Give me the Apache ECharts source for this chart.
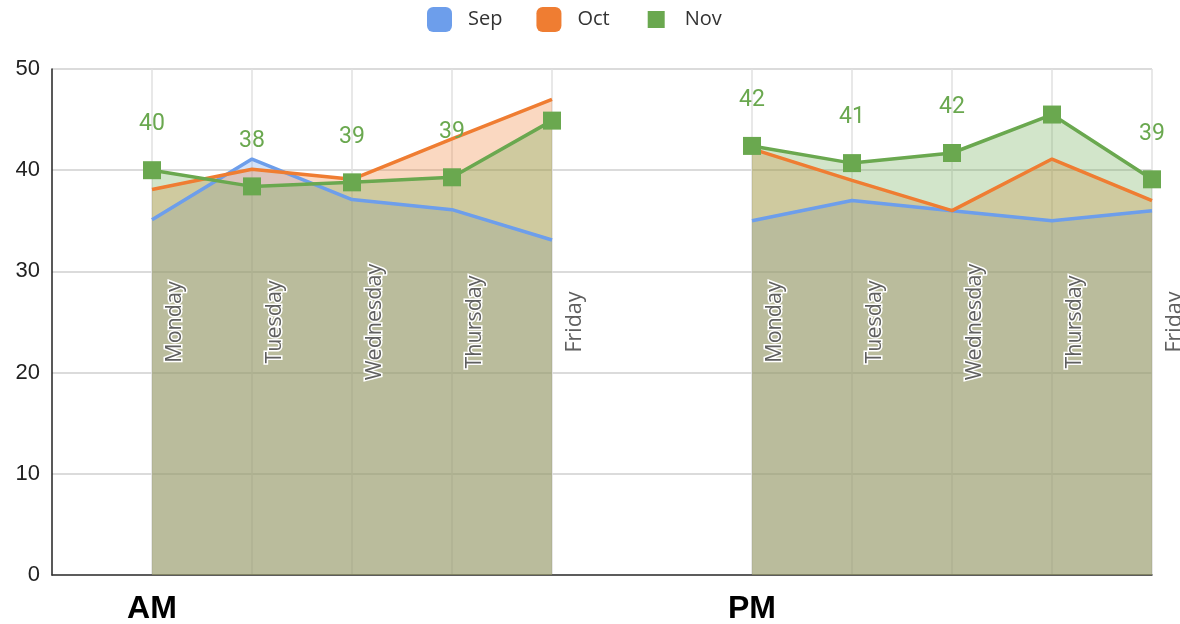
<!DOCTYPE html>
<html>
<head>
<meta charset="utf-8">
<script src="https://cdn.jsdelivr.net/npm/echarts@6/dist/echarts.min.js"></script>
<style>
  html, body { margin: 0; padding: 0; background: #fff; }
  #chart { width: 1180px; height: 624px; }
</style>
</head>
<body>
<div id="chart"></div>
<script>
// tick labels
const dayLabels = ['', 'Monday', 'Tuesday', 'Wednesday', 'Thursday', 'Friday',
  '', 'Monday', 'Tuesday', 'Wednesday', 'Thursday', 'Friday']
const periodLabels = ['', 'AM', '', '', '', '', '', 'PM', '', '', '', '']
const yTicks = [0, 10, 20, 30, 40, 50]

// values
const sepAM = [35.1, 41.1, 37.1, 36.1, 33.1]
const sepPM = [35.0, 37.0, 36.0, 35.0, 36.0]
const octAM = [38.1, 40.1, 39.1, 43.1, 47.0]
const octPM = [42.1, 39.0, 36.0, 41.1, 37.0]
const novAM = [40.0, 38.4, 38.8, 39.3, 44.9]
const novPM = [42.4, 40.7, 41.7, 45.5, 39.1]
// which nov points carry a value label
const novLabelAM = [true, true, true, true, false]
const novLabelPM = [true, true, true, false, true]

const colors = { sep: '#6d9eeb', oct: '#ef7d32', nov: '#6aa84f' }

const joinHalves = (am, pm) => [null, ...am, null, ...pm]

const novShown = joinHalves(novLabelAM, novLabelPM)
const novData = joinHalves(novAM, novPM).map((v, i) =>
  v === null ? null : { value: v, label: { show: novShown[i] } }
)

const chart = echarts.init(document.getElementById('chart'))

const option = {
  animation: false,
  color: [colors.sep, colors.oct, colors.nov],
  legend: {
    top: 2,
    left: 422,
    itemWidth: 25,
    itemHeight: 25,
    itemGap: 34,
    textStyle: { fontFamily: 'Open Sans', fontSize: 20, color: '#333', padding: [0, 0, 0, 11] },
    data: [
      { name: 'Sep', icon: 'roundRect' },
      { name: 'Oct', icon: 'roundRect' },
      { name: 'Nov', icon: 'path://M-4 -4 M21 21 M0 0 L17 0 L17 17 L0 17 Z' }
    ]
  },
  grid: { left: 52, right: 28, top: 69, bottom: 49, outerBoundsMode: 'none' },
  xAxis: [
    {
      // axis line + vertical grid, under the areas
      type: 'category',
      data: dayLabels,
      boundaryGap: false,
      axisLine: { lineStyle: { color: '#333', width: 1.5 } },
      axisTick: { show: false },
      axisLabel: { show: false },
      splitLine: {
        show: true,
        interval: (idx) => dayLabels[idx] !== '',
        lineStyle: { color: '#e0e0e0', width: 1.5 }
      }
    },
    {
      // rotated day names, drawn over the areas
      type: 'category',
      data: dayLabels,
      position: 'bottom',
      offset: 0,
      boundaryGap: false,
      axisLine: { show: false },
      axisTick: { show: false },
      splitLine: { show: false },
      axisLabel: {
        interval: 0,
        rotate: 90,
        margin: -253,
        align: 'center',
        verticalAlign: 'top',
        padding: [12, 0, 0, 0],
        lineHeight: 21,
        fontFamily: 'Open Sans',
        fontSize: 21.5,
        color: '#5f5f5f',
        textBorderColor: '#fff',
        textBorderWidth: 3
      },
      z: 10
    },
    {
      type: 'category',
      data: periodLabels,
      position: 'bottom',
      offset: 0,
      boundaryGap: false,
      axisLine: { show: false },
      axisTick: { show: false },
      splitLine: { show: false },
      axisLabel: {
        interval: 0,
        margin: 18,
        fontFamily: 'Liberation Sans',
        fontWeight: 'bold',
        fontSize: 32,
        color: '#000'
      }
    }
  ],
  yAxis: {
    type: 'value',
    min: yTicks[0],
    max: yTicks[yTicks.length - 1],
    interval: 10,
    axisLine: { show: true, lineStyle: { color: '#222', width: 1.5 } },
    axisTick: { show: false },
    splitLine: { lineStyle: { color: '#cfcfcf', width: 1.5 } },
    axisLabel: { fontFamily: 'Liberation Sans', fontSize: 22, color: '#222', margin: 12 }
  },
  series: [
    {
      name: 'Sep',
      type: 'line',
      data: joinHalves(sepAM, sepPM),
      showSymbol: false,
      lineStyle: { width: 3.5, color: colors.sep },
      areaStyle: { color: colors.sep, opacity: 0.3 }
    },
    {
      name: 'Oct',
      type: 'line',
      data: joinHalves(octAM, octPM),
      showSymbol: false,
      lineStyle: { width: 3.5, color: colors.oct },
      areaStyle: { color: colors.oct, opacity: 0.3 }
    },
    {
      name: 'Nov',
      type: 'line',
      data: novData,
      symbol: 'rect',
      symbolSize: 18,
      itemStyle: { color: colors.nov },
      lineStyle: { width: 3.5, color: colors.nov },
      areaStyle: { color: colors.nov, opacity: 0.3 },
      label: {
        show: true,
        position: 'top',
        distance: 25,
        fontFamily: 'Roboto',
        fontSize: 23,
        color: colors.nov,
        formatter: (p) => Math.round(p.value)
      }
    }
  ]
}

chart.setOption(option)
</script>
</body>
</html>
